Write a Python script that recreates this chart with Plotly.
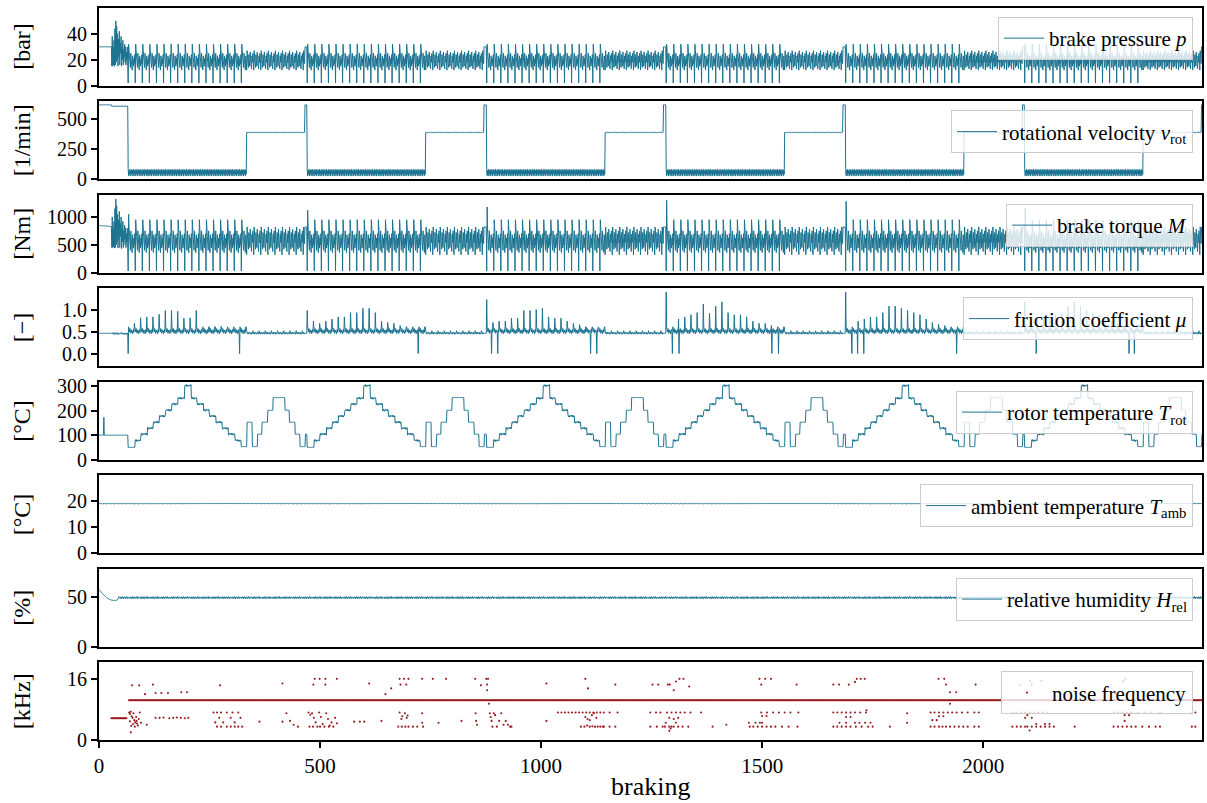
import numpy as np
import plotly.graph_objects as go
from plotly.subplots import make_subplots

# ======================= DATA =======================
N_BRAKINGS = 2496
cycle_starts = [66, 471, 877, 1283, 1689, 2094]
cycle_len = 406
band_len = 268          # low-speed drag section of each cycle
plateau_end = 400       # end of 390 1/min section, then short 620 1/min section

# --- brake pressure [bar]
p_start_level = 30.0
p_start_len = 29
p_start_osc = [15, 38, 15, 30, 16, 35, 15, 44, 16, 50, 18, 46, 20, 40, 15, 36, 22, 42, 16,
               33, 25, 38, 15, 30, 20, 35, 16, 28, 22, 32, 18, 30, 16, 26, 20, 30, 15]
p_band = [2, 32, 27, 22, 18, 14, 25, 20, 16, 12, 23, 19, 15, 21, 17, 24]
p_plat = [12, 27, 22, 17, 14, 24, 19, 15, 26, 21, 16, 13, 23, 18, 25, 20]
p_spike = 30.0

# --- rotational velocity [1/min]
v_start_level = 622
v_start_dip = [614, 610, 612, 606, 611, 613, 609]
v_band = [80, 28, 75, 40, 82, 25, 70, 45]
v_plat = [390, 393, 388, 391, 389, 392]
v_spike = 622

# --- brake torque [Nm]
t_start_level = [845, 840, 835, 830]
t_start_osc = [450, 1000, 450, 800, 460, 920, 440, 1150, 450, 1320, 500, 1200, 550, 1050, 440,
               950, 600, 1100, 450, 880, 650, 1000, 430, 800, 550, 920, 450, 750, 600, 850,
               500, 800, 450, 700, 550, 800, 420]
t_band = [30, 950, 800, 650, 520, 400, 750, 600, 480, 360, 680, 560, 440, 620, 500, 700]
t_plat = [320, 820, 660, 520, 420, 720, 570, 450, 780, 630, 480, 380, 690, 540, 750, 600]
t_spike = 820
t_cycle_peak = [1050, 1120, 1180, 1300, 1280, 1150]

# --- friction coefficient [-]
mu_start_level = 0.47
mu_start_osc = [0.47, 0.46, 0.48, 0.45, 0.47, 0.49, 0.46, 0.44, 0.47, 0.48, 0.45, 0.46, 0.49,
                0.47, 0.44, 0.46, 0.48, 0.47, 0.45, 0.46, 0.47, 0.49, 0.46, 0.45, 0.47, 0.48,
                0.44, 0.46, 0.47, 0.45, 0.48, 0.46, 0.44, 0.47, 0.46, 0.48, 0.45]
mu_spikes = [
    [0.82, 0.70, 0.83, 0.85, 0.85, 0.91, 1.00, 1.00, 0.98, 0.82, 0.83, 1.00, 0.60, 0.62, 0.63, 0.63, 0.58, 0.58, 0.55],
    [1.00, 0.75, 0.70, 0.75, 0.80, 0.85, 0.85, 0.95, 0.95, 1.05, 1.05, 0.95, 0.75, 0.72, 0.70, 0.65, 0.62, 0.60, 0.58],
    [1.25, 0.72, 0.75, 0.75, 0.82, 0.82, 1.00, 1.00, 1.02, 1.05, 0.85, 0.82, 0.82, 0.75, 0.70, 0.67, 0.62, 0.60, 0.60],
    [1.43, 0.80, 0.80, 0.85, 0.90, 0.95, 1.15, 0.93, 1.10, 1.20, 0.95, 0.90, 0.90, 0.85, 0.75, 0.70, 0.70, 0.65, 0.62],
    [1.43, 0.80, 0.75, 0.80, 0.85, 0.85, 0.95, 1.10, 1.10, 1.05, 1.00, 0.95, 0.90, 0.80, 0.72, 0.68, 0.65, 0.60, 0.55],
    [1.20, 0.75, 0.78, 0.80, 0.85, 0.90, 0.95, 1.10, 1.20, 1.10, 1.00, 0.95, 0.88, 0.80, 0.75, 0.70, 0.65, 0.60, 0.55],
]
mu_step_len = 14
mu_fill = [0.0, 0.62, 0.55, 0.50, 0.58, 0.52, 0.47, 0.55, 0.50, 0.53, 0.46, 0.51, 0.56, 0.49]
mu_plat = [0.53, 0.48, 0.46, 0.49, 0.45, 0.47, 0.50, 0.48, 0.46, 0.45, 0.49, 0.47, 0.45, 0.48]
mu_spike_level = 0.47
mu_drop_x = [66, 318, 722, 888, 902, 1112, 1126, 1297, 1312, 1522, 1537,
             1703, 1716, 1730, 1940, 2120, 2330, 2342]
mu_drop_value = 0.0

# --- rotor temperature [°C]
temp_start_level = 100
temp_start_spike = (11, 173)
temp_step_dur = [16, 13, 15, 13, 14, 14, 14, 14, 15, 15, 13, 15, 13, 15, 14, 14, 15, 14, 13,
                 12, 12, 10, 13, 12, 27, 10, 13, 11, 12, 5]
temp_step_val = [50, 78, 104, 128, 153, 178, 202, 227, 251, 303, 251, 227, 202, 178, 153, 128,
                 104, 78, 53, 153, 53, 104, 153, 202, 254, 202, 153, 104, 53, 104]
temp_wiggle = [0, 3, -2, 4, -3, 2, -4, 1, 3, -1]

# --- ambient temperature [°C]
amb_level = 19.1
amb_wiggle = [0.0, 0.12, -0.08, 0.06, -0.12, 0.09, -0.03, 0.07, -0.1]

# --- relative humidity [%]
hum_start = [58.0, 57.6, 57.0, 56.5, 56.0, 55.4, 55.0, 54.5, 54.0, 53.5, 53.0, 52.6, 52.0, 51.6,
             51.2, 50.8, 50.4, 50.0, 49.6, 49.3, 49.0, 48.8, 48.5, 48.2, 48.0, 47.8, 47.6, 47.4,
             47.3, 47.2, 47.1, 47.0, 47.0, 46.9, 47.0, 47.1, 47.0, 46.9, 47.0, 47.2, 47.1, 47.4,
             47.8, 48.5, 49.5, 51.0, 50.6, 50.0]
hum_wiggle = [49.5, 50.3, 49.0, 50.6, 49.8, 48.7, 50.1, 50.9, 49.2, 49.9, 48.6, 50.2, 50.7,
              49.5, 48.9, 50.4, 49.6, 51.0, 49.1, 48.5, 49.8, 50.5, 49.4]

# --- noise frequency [kHz]
noise_rows = [(68, 2495, 10.4), (28, 63, 5.7)]   # rows of detections (x0, x1, kHz)
noise_row_step = 2
noise_x = [
    # cycle 1
    68, 70, 72, 74, 76, 78, 80, 82, 84, 86, 88, 90, 92, 70, 73, 77, 81, 85, 72, 95, 75, 91, 104, 108,
    122, 128, 141, 156, 186, 199, 128, 137, 146, 159, 168, 176, 185, 194, 202,
    259, 267, 276, 289, 302, 315, 272, 298, 320, 263, 281, 307, 267, 276, 289, 298, 307, 315, 324, 274,
    363, 415, 415, 424, 432, 440, 450,
    # cycle 2
    474, 478, 482, 486, 490, 494, 498, 502, 506, 510, 514, 518, 522, 526, 530, 534, 538, 476, 484,
    500, 520, 488, 499, 512, 538, 485, 512,
    577, 590, 600, 611, 639, 648, 661,
    680, 690, 700, 682, 695, 680, 686, 692, 698, 684, 696, 677, 685, 693, 700, 710, 720, 733,
    731, 731, 731, 755, 768, 785, 820,
    # cycle 3
    851, 852, 853, 855, 864, 876, 880, 878, 878, 882, 884, 886, 888, 890, 893, 896, 900, 905, 910,
    915, 920, 925, 930, 933,
    1012, 1012, 1038, 1046, 1054, 1062, 1070, 1078, 1086, 1094, 1102, 1110, 1118, 1126, 1134,
    1100, 1106, 1090, 1098, 1104, 1110, 1116, 1122, 1128, 1134, 1140, 1100, 1105, 1110, 1115,
    1120, 1125, 1142, 1155, 1173, 1142, 1155, 1168, 1168,
    # cycle 4
    1252, 1265, 1287, 1291, 1313, 1322, 1305, 1335, 1300,
    1247, 1260, 1270, 1285, 1295, 1305, 1315, 1325, 1338, 1290, 1300, 1310,
    1247, 1262, 1275, 1280, 1290, 1295, 1300, 1310, 1320, 1333, 1293, 1282, 1305, 1290,
    1362, 1388, 1419,
    1494, 1507, 1520, 1498, 1578, 1498, 1511, 1525, 1538, 1551, 1564, 1582, 1500, 1510,
    1470, 1485, 1495, 1500, 1472, 1480, 1490, 1500, 1510, 1520, 1530, 1545, 1560, 1580,
    # cycle 5
    1714, 1723, 1732, 1710, 1661, 1674, 1696, 1661, 1670, 1680, 1690, 1700, 1710, 1722, 1735,
    1736, 1690, 1700, 1675, 1690, 1710, 1720, 1733, 1745, 1661, 1670, 1680, 1690, 1700, 1712,
    1725, 1740, 1750, 1789, 1828, 1828,
    1899, 1912, 1916, 1925, 1939, 1983, 1925, 1881, 1890, 1900, 1910, 1920, 1930, 1940, 1952,
    1965, 1980, 1990, 1900, 1910, 1885, 1895, 1881, 1890, 1900, 1908, 1916, 1925, 1935, 1945,
    1955, 1965, 1980, 1990,
    # cycle 6
    2084, 2106, 2132, 2110, 2066, 2075, 2085, 2095, 2105, 2115, 2125, 2135, 2145, 2100, 2095,
    2110, 2120, 2140, 2150, 2066, 2076, 2085, 2095, 2100, 2110, 2120, 2130, 2140, 2150, 2160,
    2105, 2207,
    2317, 2322, 2295, 2305, 2315, 2325, 2335, 2350, 2365, 2380, 2400, 2320, 2330, 2320,
    2295, 2305, 2315, 2325, 2335, 2345, 2360, 2375, 2390, 2400, 2472, 2480, 2472, 2480,
]
noise_y = [
    # cycle 1
    7.2, 6.8, 7.4, 6.2, 5.8, 7.0, 5.2, 4.6, 6.0, 4.3, 3.8, 5.5, 7.2, 4.9, 3.7, 4.2, 3.5, 5.0, 2.0, 4.5, 14.3, 14.3, 12.0, 4.0,
    14.5, 12.3, 12.3, 12.3, 12.5, 12.5, 5.8, 5.8, 5.9, 5.7, 5.8, 5.9, 5.8, 5.7, 5.8,
    7.2, 7.2, 7.2, 7.2, 7.2, 7.2, 5.8, 5.8, 5.8, 4.6, 4.6, 4.6, 3.5, 3.5, 3.5, 3.5, 3.5, 3.5, 3.5, 14.3,
    4.8, 14.8, 4.8, 7.0, 5.0, 4.0, 3.5,
    # cycle 2
    7.2, 6.6, 7.0, 5.8, 4.6, 3.5, 7.2, 6.0, 4.2, 3.5, 7.0, 5.5, 3.8, 4.6, 3.5, 5.8, 4.4, 3.5, 3.5,
    3.5, 3.5, 16.0, 16.0, 16.0, 16.0, 14.5, 14.5,
    4.8, 4.8, 4.8, 14.8, 5.0, 12.0, 13.5,
    16.0, 16.0, 16.0, 14.5, 14.5, 7.2, 6.2, 7.0, 6.4, 5.5, 5.8, 3.5, 3.5, 3.5, 3.5, 3.5, 3.5, 3.5,
    16.0, 7.0, 4.5, 16.0, 4.5, 16.0, 5.0,
    # cycle 3
    16.0, 7.0, 5.0, 4.0, 14.3, 16.0, 16.0, 14.5, 13.0, 9.5, 7.0, 6.0, 5.0, 3.5, 7.0, 6.5, 3.5, 5.0, 7.0,
    4.0, 5.0, 4.0, 3.5, 3.5,
    14.8, 5.0, 7.2, 7.2, 7.2, 7.2, 7.2, 7.2, 7.2, 7.2, 7.2, 7.2, 7.2, 7.2, 7.2,
    16.0, 13.5, 3.5, 3.5, 3.8, 3.5, 3.6, 3.5, 3.5, 3.5, 3.5, 6.0, 5.5, 5.2, 6.5,
    7.0, 5.8, 7.2, 7.2, 7.2, 3.5, 3.5, 3.5, 14.5,
    # cycle 4
    14.5, 14.5, 14.5, 14.5, 16.0, 16.0, 15.3, 14.0, 13.0,
    7.2, 7.2, 7.2, 7.2, 7.2, 7.2, 7.2, 7.2, 7.2, 5.8, 5.5, 5.8,
    3.5, 3.5, 3.5, 3.5, 3.5, 3.5, 3.5, 3.5, 3.5, 3.5, 3.0, 4.5, 4.5, 2.4,
    7.2, 3.5, 4.0,
    16.0, 16.0, 16.0, 14.5, 14.5, 7.2, 7.2, 7.2, 7.2, 7.2, 7.2, 7.2, 6.3, 6.3,
    4.5, 4.5, 4.5, 4.5, 3.5, 3.5, 3.5, 3.5, 3.5, 3.5, 3.5, 3.5, 3.5, 3.5,
    # cycle 5
    16.0, 16.0, 16.0, 15.2, 14.5, 14.5, 14.5, 7.2, 7.2, 7.2, 7.2, 7.2, 7.2, 7.2, 7.2,
    7.8, 6.0, 6.0, 4.5, 4.5, 4.5, 4.5, 4.5, 4.5, 3.5, 3.5, 3.5, 3.5, 3.5, 3.5,
    3.5, 3.5, 3.5, 3.5, 7.0, 4.5,
    16.0, 16.0, 14.5, 12.5, 12.5, 14.5, 9.5, 7.2, 7.2, 7.2, 7.2, 7.2, 7.2, 7.2, 7.2,
    7.2, 7.2, 7.2, 6.2, 6.2, 5.2, 5.2, 3.5, 3.5, 3.5, 3.5, 3.5, 3.5, 3.5, 3.5,
    3.5, 3.5, 3.5, 3.5,
    # cycle 6
    14.5, 15.5, 15.5, 14.5, 7.2, 7.2, 7.2, 7.2, 7.2, 7.2, 7.2, 7.2, 7.2, 6.5, 5.8,
    5.8, 4.2, 4.2, 4.2, 3.5, 3.5, 3.5, 3.5, 3.5, 3.5, 3.5, 3.5, 3.5, 3.5, 3.5,
    2.5, 3.5,
    15.5, 16.0, 7.2, 7.2, 7.2, 7.2, 7.2, 7.2, 7.2, 7.2, 7.2, 6.5, 6.5, 5.0,
    3.5, 3.5, 3.5, 3.5, 3.5, 3.5, 3.5, 3.5, 3.5, 3.5, 7.2, 7.2, 3.5, 3.5,
]

panel_names = ["brake pressure <i>p</i>",
               "rotational velocity <i>v</i><sub>rot</sub>",
               "brake torque <i>M</i>",
               "friction coefficient <i>μ</i>",
               "rotor temperature <i>T</i><sub>rot</sub>",
               "ambient temperature <i>T</i><sub>amb</sub>",
               "relative humidity <i>H</i><sub>rel</sub>",
               "noise frequency"]
unit_labels = ["[bar]", "[1/min]", "[Nm]", "[−]", "[°C]", "[°C]", "[%]", "[kHz]"]
y_ranges = [[0, 60], [0, 650], [0, 1395], [-0.29, 1.51], [0, 318], [0, 30], [0, 79], [0, 20.3]]
y_ticks = [[0, 20, 40], [0, 250, 500], [0, 500, 1000], [0.0, 0.5, 1.0],
           [0, 100, 200, 300], [0, 10, 20], [0, 50], [0, 16]]
y_ticktext = [None, None, None, ["0.0", "0.5", "1.0"], None, None, None, None]
x_ticks = [0, 500, 1000, 1500, 2000]

# ======================= build the series =======================
N = N_BRAKINGS
x = np.arange(N)
pressure = np.zeros(N)
velocity = np.zeros(N)
torque = np.zeros(N)
mu = np.zeros(N)
temp = np.zeros(N)

pressure[:p_start_len] = p_start_level
pressure[p_start_len:cycle_starts[0]] = p_start_osc
velocity[:p_start_len] = v_start_level
for i in range(p_start_len, cycle_starts[0]):
    velocity[i] = v_start_dip[i % len(v_start_dip)]
for i in range(p_start_len):
    torque[i] = t_start_level[i * len(t_start_level) // p_start_len]
torque[p_start_len:cycle_starts[0]] = t_start_osc
mu[:p_start_len] = mu_start_level
mu[p_start_len:cycle_starts[0]] = mu_start_osc
temp[:cycle_starts[0]] = temp_start_level
temp[temp_start_spike[0]] = temp_start_spike[1]

for c, s in enumerate(cycle_starts):
    tprof = []
    for k, (d, v) in enumerate(zip(temp_step_dur, temp_step_val)):
        for j in range(d):
            w = temp_wiggle[(j + k) % len(temp_wiggle)] if 1 <= k <= 17 else 0
            tprof.append(v + w)
    for off in range(cycle_len):
        i = s + off
        if i >= N:
            break
        if off < band_len:
            pressure[i] = p_band[off % len(p_band)]
            torque[i] = t_band[off % len(t_band)]
            velocity[i] = v_band[off % len(v_band)]
            sub, k = divmod(off, mu_step_len)
            if k == 0 and sub < len(mu_spikes[c]):
                mu[i] = mu_spikes[c][sub]
            else:
                mu[i] = mu_fill[k] if k else mu_fill[1]
        elif off < plateau_end:
            q = off - band_len
            pressure[i] = p_plat[q % len(p_plat)]
            torque[i] = t_plat[q % len(t_plat)]
            velocity[i] = v_plat[q % len(v_plat)]
            mu[i] = mu_plat[q % len(mu_plat)]
        else:
            pressure[i] = p_spike
            torque[i] = t_spike
            velocity[i] = v_spike
            mu[i] = mu_spike_level
        temp[i] = tprof[off]
    if s + 1 < N:
        torque[s + 1] = t_cycle_peak[c]

for dx in mu_drop_x:
    mu[dx] = mu_drop_value

ambient = np.array([amb_level + amb_wiggle[i % len(amb_wiggle)] for i in range(N)])
humidity = np.array([hum_start[i] if i < len(hum_start) else hum_wiggle[i % len(hum_wiggle)]
                     for i in range(N)])

nx, ny = [], []
for x0, x1, yv in noise_rows:
    for xi in range(x0, x1 + 1, noise_row_step):
        nx.append(xi)
        ny.append(yv)
nx += noise_x
ny += noise_y

series = [pressure, velocity, torque, mu, temp, ambient, humidity]

# ======================= figure =======================
LINE = "#1b7391"
RED = "#981b1f"
FONT = "Liberation Serif, Times New Roman, DejaVu Serif, serif"

W, H = 1207, 803
ML, MR, MT, MB = 99, 5, 8, 63
PW, PH = W - ML - MR, H - MT - MB
panel_h = 77.6
panel_step = 93.49

fig = make_subplots(rows=8, cols=1, shared_xaxes=False)

for r in range(8):
    leg = "legend" if r == 0 else f"legend{r + 1}"
    if r < 7:
        fig.add_trace(go.Scatter(x=x, y=series[r], mode="lines", name=panel_names[r],
                                 line=dict(color=LINE, width=1, simplify=False), legend=leg,
                                 showlegend=True), row=r + 1, col=1)
    else:
        fig.add_trace(go.Scatter(x=nx, y=ny, mode="markers", name=panel_names[r],
                                 marker=dict(color=RED, size=2.1, line=dict(width=0)),
                                 legend=leg, showlegend=True), row=r + 1, col=1)

layout_updates = {}
annotations = []
for r in range(8):
    top_px = r * panel_step
    dom = [(PH - top_px - panel_h) / PH, (PH - top_px) / PH]
    if r == 7:
        dom[0] = 0.0
    ya = "yaxis" if r == 0 else f"yaxis{r + 1}"
    xa = "xaxis" if r == 0 else f"xaxis{r + 1}"
    yd = dict(domain=dom, range=y_ranges[r], tickvals=y_ticks[r], showgrid=False,
              zeroline=False, showline=True, mirror=True, linecolor="black", linewidth=2,
              ticks="outside", ticklen=6, tickwidth=1.6, tickcolor="black", automargin=False,
              tickfont=dict(family=FONT, size=20, color="black"))
    if y_ticktext[r] is not None:
        yd["ticktext"] = y_ticktext[r]
    layout_updates[ya] = yd
    xd = dict(range=[0, N - 1], showgrid=False, zeroline=False, showline=True, mirror=True,
              linecolor="black", linewidth=2, automargin=False)
    if r == 7:
        xd.update(tickvals=x_ticks, ticks="outside", ticklen=6, tickwidth=1.6,
                  tickcolor="black", tickfont=dict(family=FONT, size=21, color="black"))
    else:
        xd.update(showticklabels=False, ticks="")
    layout_updates[xa] = xd
    leg = "legend" if r == 0 else f"legend{r + 1}"
    layout_updates[leg] = dict(x=(1193 - ML) / PW, xanchor="right",
                               y=(PH - top_px - 9) / PH, yanchor="top",
                               bgcolor="rgba(255,255,255,0.8)", bordercolor="#cccccc",
                               borderwidth=1, font=dict(family=FONT, size=21, color="black"),
                               itemwidth=40)
    annotations.append(dict(text=unit_labels[r], xref="paper", yref="paper",
                            x=(22 - ML) / PW, y=(PH - top_px - panel_h / 2) / PH,
                            xanchor="center", yanchor="middle", textangle=-90,
                            showarrow=False, font=dict(family=FONT, size=24, color="black")))

annotations.append(dict(text="braking", xref="paper", yref="paper", x=0.5,
                        y=(PH - 786 + MT) / PH, xanchor="center", yanchor="middle",
                        showarrow=False, font=dict(family=FONT, size=26, color="black")))

fig.update_layout(**layout_updates)
fig.update_layout(width=W, height=H,
                  margin=dict(l=ML, r=MR, t=MT, b=MB, autoexpand=False),
                  paper_bgcolor="white", plot_bgcolor="white",
                  annotations=annotations, font=dict(family=FONT, color="black"))

fig.write_html("out.html", config={"displayModeBar": False},
               post_script="document.body.style.margin='0';document.body.style.overflow='hidden';")
